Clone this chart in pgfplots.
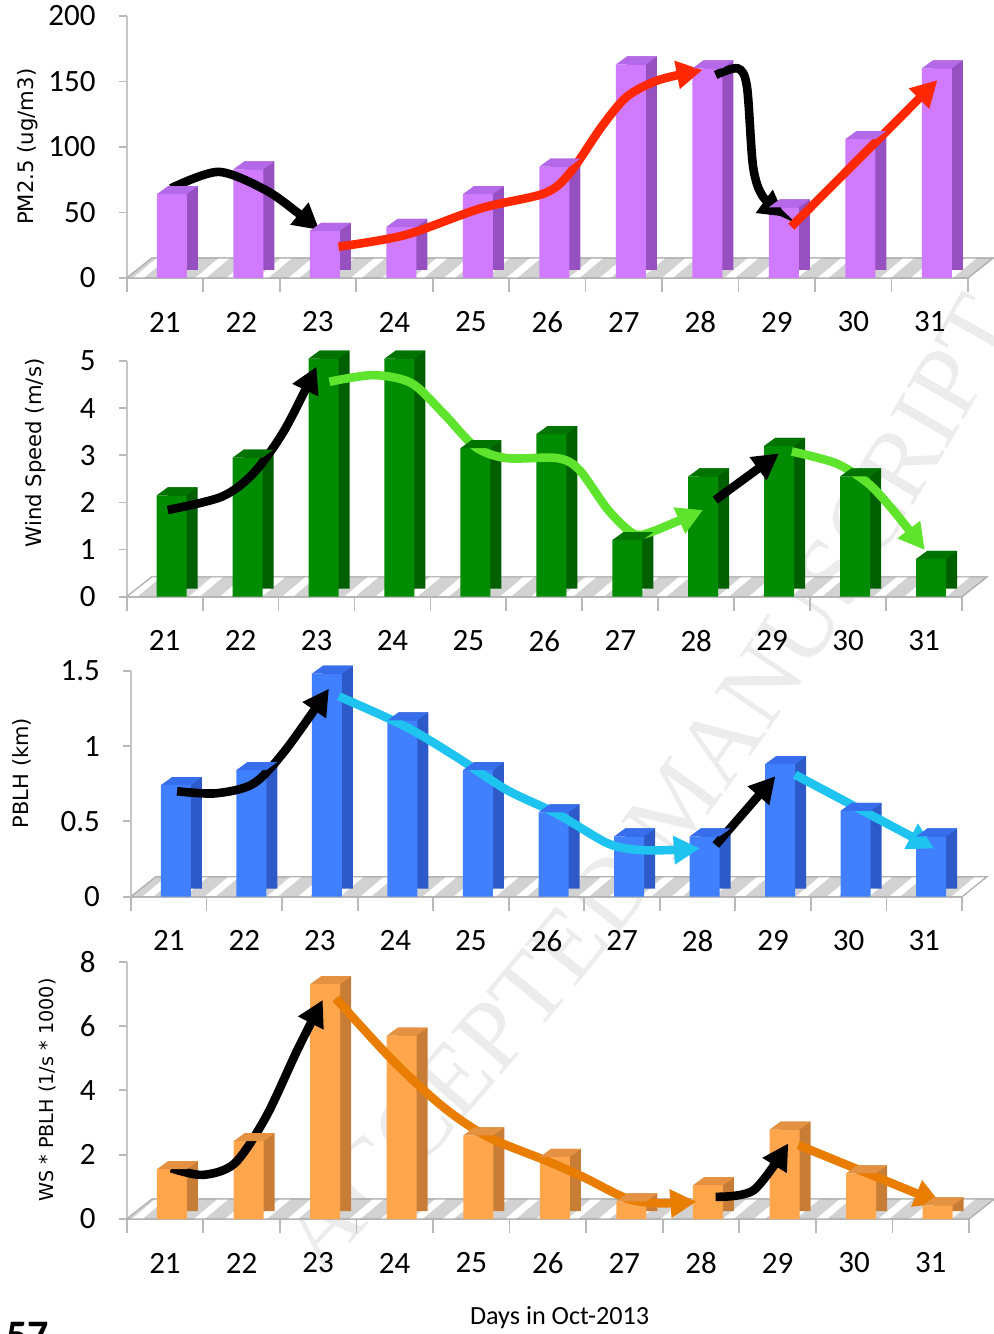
\documentclass[border=0pt]{standalone}
\usepackage{fontspec}
\setmainfont{Carlito}
\newfontfamily\verd{DejaVu Sans}
\newfontfamily\wmfont{Liberation Serif}
\usepackage{pgfplots}
\usepackage{pgfplotstable}
\pgfplotsset{compat=1.18}
\usetikzlibrary{arrows.meta,patterns.meta,decorations.text}

\definecolor{purpF}{RGB}{208,122,255}
\definecolor{purpS}{RGB}{150,80,192}
\definecolor{purpT}{RGB}{180,105,232}
\definecolor{grnF}{RGB}{0,140,0}
\definecolor{grnS}{RGB}{0,95,0}
\definecolor{grnT}{RGB}{0,115,0}
\definecolor{bluF}{RGB}{64,128,255}
\definecolor{bluS}{RGB}{45,90,200}
\definecolor{bluT}{RGB}{55,110,235}
\definecolor{orgF}{RGB}{255,166,77}
\definecolor{orgS}{RGB}{200,125,55}
\definecolor{orgT}{RGB}{228,146,66}
\definecolor{arrRed}{RGB}{255,40,0}
\definecolor{arrGrn}{RGB}{95,228,45}
\definecolor{arrCyan}{RGB}{30,195,240}
\definecolor{arrOrg}{RGB}{232,125,0}

\pgfdeclareplotmark{barcap}{%
  \pgfpathmoveto{\pgfqpoint{-4pt}{0pt}}%
  \pgfpathlineto{\pgfqpoint{11pt}{0pt}}%
  \pgfpathlineto{\pgfqpoint{16.5pt}{4pt}}%
  \pgfpathlineto{\pgfqpoint{1.5pt}{4pt}}%
  \pgfpathclose\pgfusepathqfill}

\pgfplotstableread{
x y
0 64
1 83
2 36
3 39
4 64
5 85
6 163
7 160
8 54
9 106
10 160
}\pmdata
\pgfplotstableread{
x y
0 2.15
1 2.95
2 5.05
3 5.05
4 3.15
5 3.45
6 1.2
7 2.55
8 3.2
9 2.55
10 0.8
}\wsdata
\pgfplotstableread{
x y
0 0.74
1 0.84
2 1.48
3 1.17
4 0.84
5 0.56
6 0.40
7 0.40
8 0.88
9 0.57
10 0.40
}\pbdata
\pgfplotstableread{
x y
0 1.55
1 2.42
2 7.3
3 5.7
4 2.6
5 1.93
6 0.55
7 1.05
8 2.78
9 1.42
10 0.42
}\wpdata

\pgfplotsset{
  panel/.style={
    scale only axis, anchor=south west, clip=false,
    xmin=-0.5, xmax=10.5, ymin=0,
    axis lines=left,
    axis line style={-, draw=gray!45, line width=0.9pt},
    xtick={0,...,10},
    xticklabels={21,22,23,24,25,26,27,28,29,30,31},
    minor xtick={-0.5,0.5,...,10.5},
    major x tick style={draw=none},
    tick align=outside,
    minor tick length=7pt, major tick length=4pt,
    every tick/.style={draw=gray!55, line width=0.9pt},
    /pgf/number format/assume math mode=true,
    tick label style={font=\fontsize{15.5}{18}\selectfont},
    xticklabel style={anchor=center, yshift=-18pt},
    yticklabel style={anchor=east, xshift=-8pt},
  },
  arr/.style={smooth, line width=4.3pt, -{Triangle[length=13pt,width=13.5pt]}},
  floorst/.style={fill=gray!35, draw=gray!60, line width=0.6pt,
     postaction={pattern={Lines[angle=40,distance=10pt,line width=3.5pt]}, pattern color=white}},
}

\newcommand{\bars}[4]{%
  \addplot[ybar, bar width=15pt, bar shift=9pt, yshift=4pt, fill=#2, draw=none] table[x=x,y=y] {#1};
  \addplot[only marks, mark=barcap, mark options={color=#3}] table[x=x,y=y] {#1};
  \addplot[ybar, bar width=15pt, bar shift=3.5pt, fill=#4, draw=none] table[x=x,y=y] {#1};
}

\begin{document}
\begin{tikzpicture}
% watermark
\path[decorate, decoration={text along path, text align=center,
   text={|\wmfont\fontsize{50}{50}\selectfont\color{gray!15}|ACCEPTED MANUSCRIPT}}]
   (110pt,-23pt) to[bend right=8] (545pt,570pt);

% Panel 1
\begin{axis}[panel, at={(63.35pt,528pt)}, width=420.65pt, height=131pt,
  ymax=200, ytick={0,50,100,150,200},
  ylabel={\verd\fontsize{10.6}{12}\selectfont PM2.5 (ug/m3)},
  ylabel style={at={(axis description cs:-0.118,0.501)}, rotate=0, anchor=center}]
\addplot[floorst] coordinates {(-0.5,0) (10.5,0) (10.83,15.3) (-0.17,15.3) (-0.5,0)};
\bars{\pmdata}{purpS}{purpT}{purpF}
\addplot[arr, black] coordinates {(0.08,68.5) (0.70,81) (1.32,67) (1.74,49.6) (2.02,36.6)};
\addplot[arr, arrRed] coordinates {(2.27,23.9) (3.14,32.8) (4.13,53.2) (4.96,64.6) (5.29,79.9) (5.71,115.5) (6.04,138.4) (6.45,151) (7.03,158.8)};
\addplot[arr, black] coordinates {(7.20,155) (7.49,160) (7.61,146) (7.69,85) (7.82,62) (8.11,46.8)};
\addplot[arr, arrRed] coordinates {(8.19,39.2) (10.10,151)};
\end{axis}

% Panel 2
\begin{axis}[panel, at={(63.35pt,368.65pt)}, width=417.65pt, height=117.85pt,
  ymax=5, ytick={0,1,2,3,4,5},
  ylabel={\verd\fontsize{10.6}{12}\selectfont Wind Speed (m/s)},
  ylabel style={at={(axis description cs:-0.1086,0.61)}, rotate=0, anchor=center}]
\addplot[floorst] coordinates {(-0.5,0) (10.5,0) (10.83,0.42) (-0.17,0.42) (-0.5,0)};
\bars{\wsdata}{grnS}{grnT}{grnF}
\addplot[arr, black] coordinates {(0.04,1.84) (0.75,2.12) (1.17,2.62) (1.58,3.54) (2.0,4.88)};
\addplot[arr, arrGrn] coordinates {(2.17,4.56) (2.75,4.70) (3.25,4.53) (3.67,3.89) (4.09,3.18) (4.50,2.94) (5.17,2.94) (5.46,2.69) (5.84,1.84) (6.17,1.34) (6.42,1.38) (7.09,1.84)};
\addplot[arr, black] coordinates {(7.25,2.05) (8.09,3.04)};
\addplot[arr, arrGrn] coordinates {(8.26,3.08) (8.84,2.83) (9.26,2.41) (9.59,1.84) (10.01,0.99)};
\end{axis}

% Panel 3
\begin{axis}[panel, at={(65.5pt,218.65pt)}, width=415.5pt, height=113pt,
  ymax=1.5, ytick={0,0.5,1,1.5},
  ylabel={\verd\fontsize{10.5}{12}\selectfont PBLH (km)},
  ylabel style={at={(axis description cs:-0.131,0.547)}, rotate=0, anchor=center}]
\addplot[floorst] coordinates {(-0.5,0) (10.5,0) (10.83,0.133) (-0.17,0.133) (-0.5,0)};
\bars{\pbdata}{bluS}{bluT}{bluF}
\addplot[arr, black] coordinates {(0.11,0.70) (0.62,0.686) (1.12,0.75) (1.54,0.97) (2.12,1.38)};
\addplot[arr, arrCyan] coordinates {(2.25,1.33) (3.13,1.13) (3.80,0.93) (4.47,0.71) (5.14,0.55) (5.81,0.354) (6.23,0.31) (6.65,0.31) (7.03,0.32)};
\addplot[arr, black] coordinates {(7.24,0.343) (8.03,0.80)};
\addplot[arr, arrCyan] coordinates {(8.29,0.81) (9.17,0.575) (10.13,0.32)};
\end{axis}

% Panel 4
\begin{axis}[panel, at={(63.35pt,57.5pt)}, width=421.15pt, height=128.65pt,
  ymax=8, ytick={0,2,4,6,8},
  ylabel={\verd\fontsize{9.6}{11}\selectfont WS * PBLH (1/s * 1000)},
  ylabel style={at={(axis description cs:-0.0946,0.501)}, rotate=0, anchor=center},
  xlabel={\fontsize{13.1}{15}\selectfont Days in Oct-2013},
  xlabel style={at={(axis description cs:0.514,-0.385)}, anchor=center}]
\addplot[floorst] coordinates {(-0.5,0) (10.5,0) (10.83,0.62) (-0.17,0.62) (-0.5,0)};
\bars{\wpdata}{orgS}{orgT}{orgF}
\addplot[arr, black] coordinates {(0.08,1.58) (0.49,1.37) (0.91,1.73) (1.32,3.18) (1.73,5.26) (2.06,6.81)};
\addplot[arr, arrOrg] coordinates {(2.23,6.86) (2.97,4.94) (3.63,3.49) (4.21,2.56) (4.96,1.83) (5.45,1.32) (6.03,0.64) (6.45,0.49) (6.94,0.54)};
\addplot[arr, black] coordinates {(7.19,0.69) (7.69,0.90) (8.14,2.35)};
\addplot[arr, arrOrg] coordinates {(8.27,2.30) (10.13,0.49)};
\end{axis}

\node[anchor=base west, inner sep=0pt, font=\bfseries\fontsize{21}{21}\selectfont] at (3pt,-8pt) {57};

\pgfresetboundingbox
\path[use as bounding box] (0,0) rectangle (496.5pt,667pt);
\end{tikzpicture}
\end{document}
